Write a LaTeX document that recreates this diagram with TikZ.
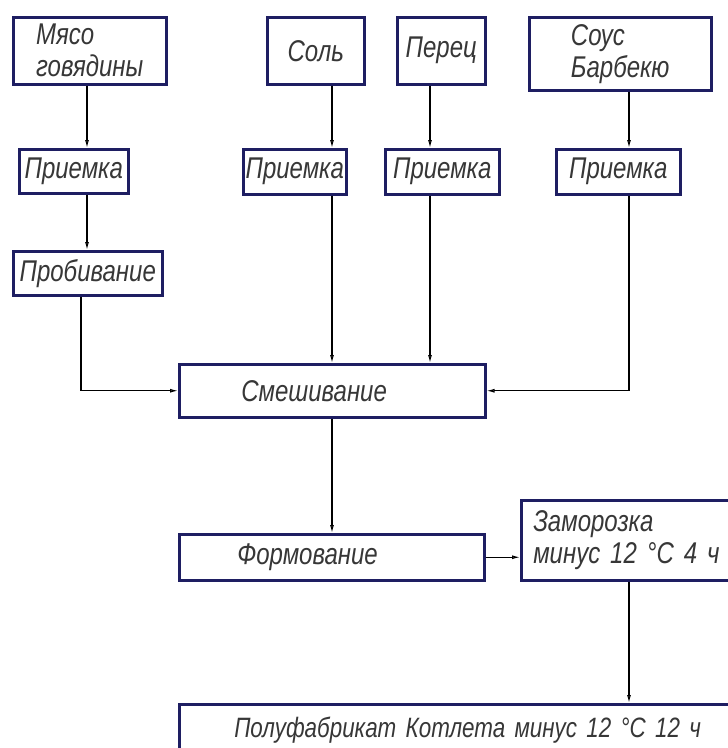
\documentclass[tikz,border=0pt]{standalone}
\usepackage{fontspec}
\newfontfamily\gost[FakeStretch=0.8]{Liberation Sans}
\usetikzlibrary{positioning, arrows.meta}
\definecolor{boxblue}{RGB}{30,30,98}
\definecolor{txtgray}{RGB}{55,55,55}

\begin{document}
\begin{tikzpicture}[x=1pt, y=-1pt, font=\gost\itshape\fontsize{30}{32}\selectfont]
\tikzstyle{stage}=[draw=boxblue, line width=2.5pt, anchor=north west, inner sep=0pt, align=left, text=txtgray]
\tikzstyle{wide}=[stage, inner ysep=0pt]
\tikzstyle{flow}=[-{Latex[open, length=8pt, width=4pt]}, line width=1.1pt]
\clip (0,0) rectangle (728,748);
\fill[white] (0,0) rectangle (728,748);
% columns of the vertical lines
\coordinate (c0) at (81,0); \coordinate (c1) at (87,0);
\coordinate (c2) at (332,0); \coordinate (c3) at (430,0); \coordinate (c4) at (629,0);
% raw materials
\node[stage, minimum width=153pt, minimum height=67pt] (myaso) at (12,16) {Мясо\\говядины};
\node[stage, minimum width=97pt, minimum height=67pt] (sol) at (266,16) {Соль};
\node[stage, minimum width=88pt, minimum height=67pt] (perec) at (396,16) {Перец};
\node[stage, minimum width=182pt, minimum height=73pt] (sous) at (528,16) {Соус\\Барбекю};
% reception
\node[stage, minimum width=109pt, minimum height=44pt] (pr1) at (18,148) {Приемка};
\node[stage, minimum width=103pt, minimum height=45pt] (pr2) at (242,148) {Приемка};
\node[stage, minimum width=114pt, minimum height=45pt] (pr3) at (384,148) {Приемка};
\node[stage, minimum width=124pt, minimum height=45pt] (pr4) at (555,148) {Приемка};
\node[stage, minimum width=149pt, minimum height=44pt] (prob) at (12,250) {Пробивание};
% processing
\node[wide, text width=182pt, inner xsep=62pt, minimum height=53pt] (smesh) at (178,363) {Смешивание};
\node[wide, text width=189pt, inner xsep=58pt, minimum height=46pt] (form) at (178,533) {Формование};
\node[wide, text width=236pt, inner xsep=12pt, minimum height=80pt] (zam) at (520,499) {Заморозка\\минус 12 °C 4 ч};
\node[wide, text width=600pt, inner xsep=55pt, minimum height=52pt, font=\gost\itshape\fontsize{28}{30}\selectfont] (polu) at (178,703) {Полуфабрикат Котлета минус 12 °C 12 ч};
% connections
\draw[flow] (myaso.south -| c1) -- (pr1.north -| c1);
\draw[flow] (pr1.south -| c1) -- (prob.north -| c1);
\draw[flow] (prob.south -| c0) |- (smesh.west);
\draw[flow] (sol.south -| c2) -- (pr2.north -| c2);
\draw[flow] (pr2.south -| c2) -- (smesh.north -| c2);
\draw[flow] (perec.south -| c3) -- (pr3.north -| c3);
\draw[flow] (pr3.south -| c3) -- (smesh.north -| c3);
\draw[flow] (sous.south -| c4) -- (pr4.north -| c4);
\draw[flow] (pr4.south -| c4) |- (smesh.east);
\draw[flow] (smesh.south -| c2) -- (form.north -| c2);
\draw[flow] (form.east) -- (form.east -| zam.west);
\draw[flow] (zam.south -| c4) -- (polu.north -| c4);
\end{tikzpicture}
\end{document}
